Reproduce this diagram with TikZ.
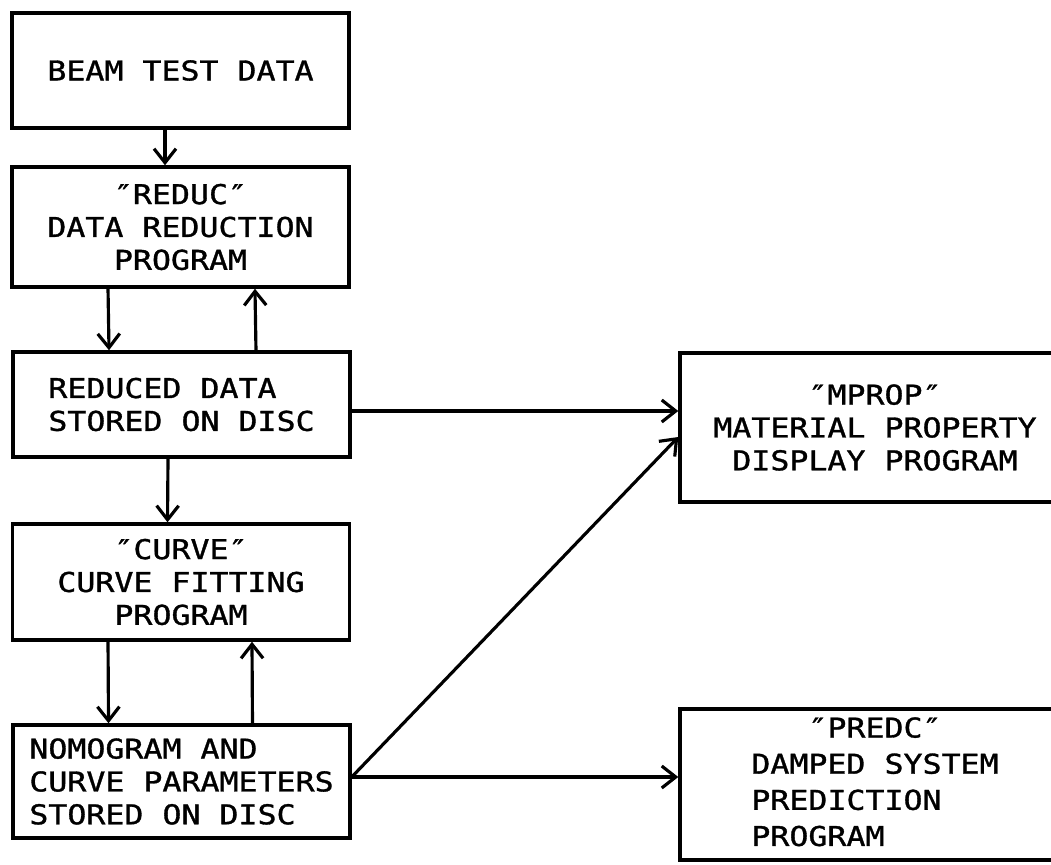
\documentclass[tikz,border=0pt]{standalone}
\usepackage{fontspec}
\newfontfamily\lettering[FakeStretch=1.16,FakeBold=1.2]{DejaVu Sans Mono}
\usetikzlibrary{arrows.meta}

\begin{document}
\begin{tikzpicture}[x=0.02cm,y=-0.02cm,
  box/.style={draw,line width=2pt,minimum width=6.74cm,inner sep=0pt,align=center},
  flow/.style={-{Straight Barb[length=2.8mm,width=4.4mm]},line width=1.8pt},
  every node/.append style={font=\lettering\fontsize{15.5}{18.7}\selectfont}]
  \path[use as bounding box,clip] (0,0) rectangle (1051,865);

  % left column
  \node[box,minimum height=2.3cm] (beam) at (180.5,70.5) {BEAM TEST DATA};
  \node[box,minimum height=2.4cm] (reduc) at (180.5,227)
    {″REDUC″\\DATA REDUCTION\\PROGRAM};
  \node[box,minimum height=2.1cm,align=left] (stored) at (181.5,404.5)
    {REDUCED DATA\\STORED ON DISC};
  \node[box,minimum height=2.32cm] (curve) at (181,582)
    {″CURVE″\\CURVE FITTING\\PROGRAM};
  \node[box,minimum height=2.26cm,align=left] (nomo) at (181.5,781.5)
    {NOMOGRAM AND\\CURVE PARAMETERS\\STORED ON DISC};

  % right column
  \node[box,minimum width=7.8cm,minimum height=2.98cm] (mprop) at (875,427.5)
    {″MPROP″\\MATERIAL PROPERTY\\DISPLAY PROGRAM};
  \node[box,minimum width=7.8cm,minimum height=3.02cm] (predc) at (875,784.5)
    {\def\arraystretch{1.1}\begin{tabular}{@{}l@{}}\multicolumn{1}{@{}c@{}}{″PREDC″}\\
     DAMPED SYSTEM\\PREDICTION\\PROGRAM\end{tabular}};

  \draw[flow] ([xshift=-.31cm]beam.south) -- ([xshift=-.31cm]reduc.north);
  \draw[flow] ([xshift=-1.45cm]reduc.south) -- ([xshift=-1.45cm]stored.north);
  \draw[flow] ([xshift=1.49cm]stored.north) -- ([xshift=1.49cm]reduc.south);
  \draw[flow] ([xshift=-.27cm]stored.south) -- ([xshift=-.27cm]curve.north);
  \draw[flow] ([xshift=-1.46cm]curve.south) -- ([xshift=-1.46cm]nomo.north);
  \draw[flow] ([xshift=1.42cm]nomo.north) -- ([xshift=1.42cm]curve.south);

  \draw[flow] ([yshift=-.13cm]stored.east) -- ([yshift=-.13cm]stored.east -| mprop.west);
  \draw[flow] ([yshift=.09cm]nomo.east) -- ([yshift=-.19cm]mprop.west);
  \draw[flow] ([yshift=.09cm]nomo.east) -- ([yshift=.09cm]nomo.east -| predc.west);
\end{tikzpicture}
\end{document}
